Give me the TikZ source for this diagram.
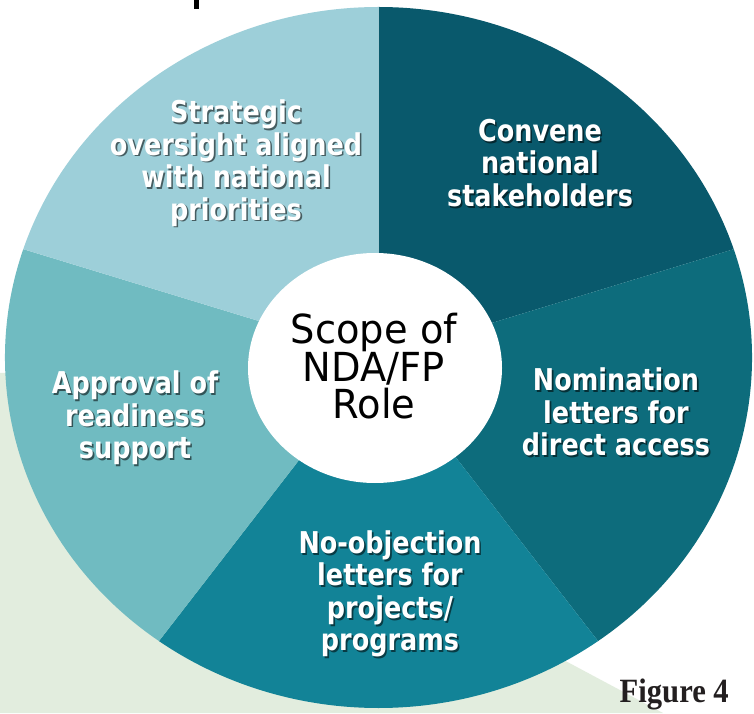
\documentclass[tikz,border=0pt]{standalone}
\usepackage{fontspec}
\usetikzlibrary{calc}
\newfontfamily\segfont[FakeStretch=0.85]{DejaVu Sans}
\newfontfamily\centfont[FakeStretch=0.96]{DejaVu Sans}
\newfontfamily\figfont[FakeStretch=0.9]{Liberation Serif}
\definecolor{cStrat}{RGB}{157,207,217}
\definecolor{cConv}{RGB}{9,89,108}
\definecolor{cNomi}{RGB}{13,108,124}
\definecolor{cNoob}{RGB}{18,131,151}
\definecolor{cAppr}{RGB}{112,187,193}
\definecolor{cGreen}{RGB}{226,237,222}
\definecolor{cFig}{RGB}{35,31,32}
\tikzset{
  seglabel/.style={text=white, align=center, inner sep=0pt,
    font=\segfont\bfseries\fontsize{30}{32.5}\selectfont},
  segshadow/.style={text=black, text opacity=0.55, align=center, inner sep=0pt,
    font=\segfont\bfseries\fontsize{30}{32.5}\selectfont},
}
\newcommand{\seglab}[3]{%
  \node[segshadow] (#1-sh) at ($(#2)+(1.6,-1.6)$) {#3};
  \node[seglabel] (#1) at (#2) {#3};}
\begin{document}
\begin{tikzpicture}[x=1pt,y=1pt]
\useasboundingbox (0,0) rectangle (754,713);
\fill[white] (0,0) rectangle (754,713);
% light green background shape
\fill[cGreen] (0,340) -- (378,356) -- (380,151) -- (663,0) -- (0,0) -- cycle;
% cut-off title glyph at the top edge
\fill[black] (194,713) rectangle (199,704);
% pie
\coordinate (pc) at (378.5,355.5);
\def\rx{373.5}\def\ry{350.5}
\fill[cConv] (pc) -- ($(pc)+(18:\rx pt and \ry pt)$) arc[start angle=18, end angle=90, x radius=\rx, y radius=\ry] -- cycle;
\fill[cNomi] (pc) -- ($(pc)+(-54:\rx pt and \ry pt)$) arc[start angle=-54, end angle=18, x radius=\rx, y radius=\ry] -- cycle;
\fill[cNoob] (pc) -- ($(pc)+(-126:\rx pt and \ry pt)$) arc[start angle=-126, end angle=-54, x radius=\rx, y radius=\ry] -- cycle;
\fill[cAppr] (pc) -- ($(pc)+(162:\rx pt and \ry pt)$) arc[start angle=162, end angle=234, x radius=\rx, y radius=\ry] -- cycle;
\fill[cStrat] (pc) -- ($(pc)+(90:\rx pt and \ry pt)$) arc[start angle=90, end angle=162, x radius=\rx, y radius=\ry] -- cycle;
% centre disc
\fill[white] (375,345) ellipse[x radius=127, y radius=115];
\node[align=center, inner sep=0pt, text=black,
  font=\centfont\fontsize{40}{36.5}\selectfont] (centre) at (374,347) {Scope of\\NDA/FP\\Role};
% segment labels
\seglab{strat}{236,550}{Strategic\\oversight aligned\\with national\\priorities}
\seglab{conv}{540,550}{Convene\\national\\stakeholders}
\seglab{nomi}{616,301}{Nomination\\letters for\\direct access}
\seglab{noob}{390,119}{No-objection\\letters for\\projects/\\programs}
\seglab{appr}{135,295}{Approval of\\readiness\\support}
% caption
\node[anchor=base east, inner sep=0pt, text=cFig,
  font=\figfont\bfseries\fontsize{34}{36}\selectfont] (fig) at (729,11) {Figure 4};
\end{tikzpicture}
\end{document}
